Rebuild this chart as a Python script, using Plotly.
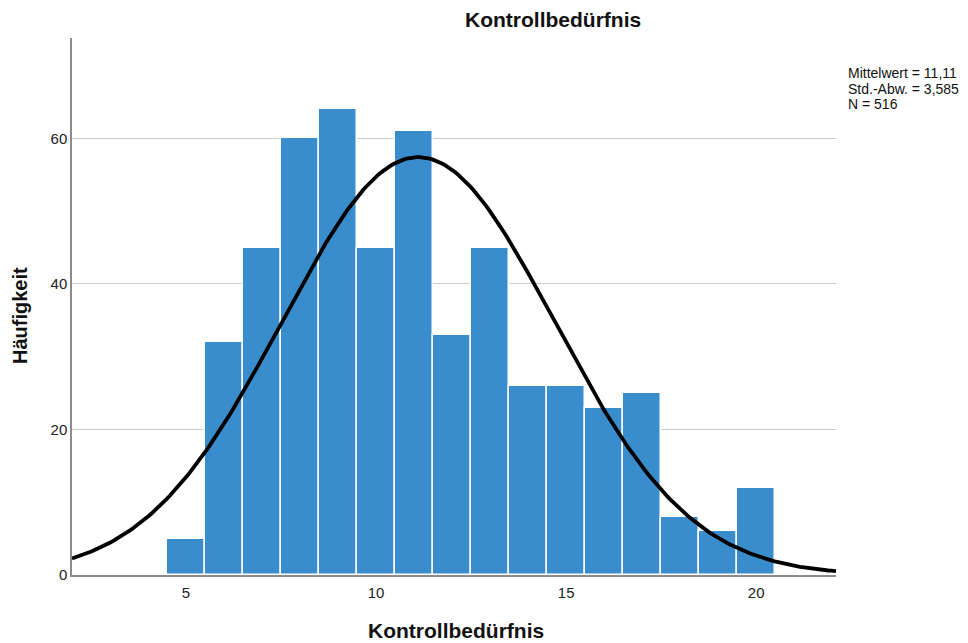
import numpy as np
import plotly.graph_objects as go

# Data
categories = [5, 6, 7, 8, 9, 10, 11, 12, 13, 14, 15, 16, 17, 18, 19, 20]
counts = [5, 32, 45, 60, 64, 45, 61, 33, 45, 26, 26, 23, 25, 8, 6, 12]
mean_val = 11.11
sd_val = 3.585
n_val = 516
x_ticks = [5, 10, 15, 20]
y_ticks = [0, 20, 40, 60]
stats_lines = ["Mittelwert = 11,11", "Std.-Abw. = 3,585", "N = 516"]

# Normal curve scaled to counts (bin width 1)
xs = np.linspace(2.0, 22.1, 300)
ys = n_val * 1.0 / (sd_val * np.sqrt(2 * np.pi)) * np.exp(-0.5 * ((xs - mean_val) / sd_val) ** 2)

# page body has an 8px margin -> figure 960x635 placed at (8,8)
W, H = 960, 635
L, R, T, B = 64, 132, 30, 68
PX0, PX1, PY0, PY1 = 72, 836, 38, 575  # plot area in screen px


def px(xs_):
    return (xs_ - PX0) / (PX1 - PX0)


def py(ys_):
    return (PY1 - ys_) / (PY1 - PY0)


fig = go.Figure()
fig.add_trace(go.Bar(
    x=categories, y=counts, width=1.0,
    marker=dict(color="#3a8dcd", line=dict(color="white", width=1.5)),
    hoverinfo="x+y", showlegend=False,
))
fig.add_trace(go.Scatter(
    x=xs, y=ys, mode="lines",
    line=dict(color="black", width=3.8), showlegend=False, hoverinfo="skip",
))

font = "Liberation Sans, Arial, sans-serif"
annotations = [
    dict(text="<b>Kontrollbedürfnis</b>", x=px(553), y=py(20), xref="paper", yref="paper",
         xanchor="center", yanchor="middle", showarrow=False,
         font=dict(size=21, color="#111", family=font)),
    dict(text="<b>Kontrollbedürfnis</b>", x=px(456), y=py(630), xref="paper", yref="paper",
         xanchor="center", yanchor="middle", showarrow=False,
         font=dict(size=21, color="#111", family=font)),
    dict(text="<b>Häufigkeit</b>", x=px(20), y=py(316), xref="paper", yref="paper",
         xanchor="center", yanchor="middle", showarrow=False, textangle=-90,
         font=dict(size=20, color="#111", family=font)),
]
for i, line in enumerate(stats_lines):
    annotations.append(dict(
        text=line, x=px(846), y=py(73 + 15.5 * i), xref="paper", yref="paper",
        xanchor="left", yanchor="middle", align="left", showarrow=False,
        font=dict(size=14, color="#111", family=font)))

fig.update_layout(
    width=W, height=H,
    margin=dict(l=L, r=R, t=T, b=B, autoexpand=False),
    plot_bgcolor="white", paper_bgcolor="white",
    font=dict(family=font, size=15, color="#222"),
    bargap=0,
    xaxis=dict(
        range=[2.0, 22.1], tickvals=x_ticks, ticktext=[str(v) for v in x_ticks],
        showgrid=False, zeroline=False, showline=True, linecolor="#8c8c8c", linewidth=1.5,
        ticks="outside", ticklen=3, tickcolor="rgba(0,0,0,0)",
        tickfont=dict(size=15, color="#222"),
    ),
    yaxis=dict(
        range=[0, 73.8], tickvals=y_ticks, ticktext=[str(v) for v in y_ticks],
        showgrid=True, gridcolor="#cfcac6", gridwidth=1.2, zeroline=False,
        showline=True, linecolor="#8c8c8c", linewidth=1.5, ticks="",
        tickfont=dict(size=15, color="#222"),
    ),
    annotations=annotations,
)

fig.write_html("out.html")
